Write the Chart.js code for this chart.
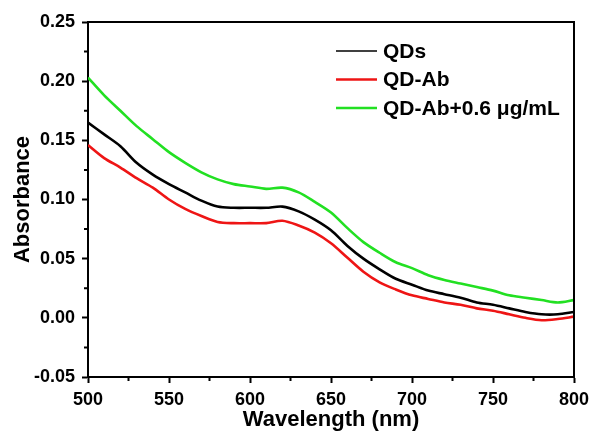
<!DOCTYPE html>
<html><head><meta charset="utf-8">
<script src="https://cdn.jsdelivr.net/npm/chart.js@4"></script>
<style>html,body{margin:0;padding:0;background:#fff}#wrap{width:592px;height:436px}</style>
</head><body><div id="wrap"><canvas id="c" width="592" height="436"></canvas></div>
<script>
const wavelengths = [500,510,520,530,540,550,560,570,580,590,600,610,620,630,640,650,660,670,680,690,700,710,720,730,740,750,760,770,780,790,800];
const qds =        [0.165,0.155,0.145,0.131,0.121,0.113,0.106,0.099,0.094,0.093,0.093,0.093,0.094,0.090,0.083,0.074,0.061,0.050,0.041,0.033,0.028,0.023,0.020,0.017,0.013,0.011,0.008,0.005,0.003,0.003,0.005];
const qdAb =       [0.146,0.135,0.127,0.118,0.110,0.100,0.092,0.086,0.081,0.080,0.080,0.080,0.082,0.078,0.072,0.063,0.051,0.039,0.030,0.024,0.019,0.016,0.013,0.011,0.008,0.006,0.003,0.000,-0.002,-0.001,0.001];
const qdAbAntigen =[0.203,0.188,0.175,0.162,0.151,0.140,0.131,0.123,0.117,0.113,0.111,0.109,0.110,0.106,0.098,0.089,0.076,0.064,0.055,0.047,0.042,0.036,0.032,0.029,0.026,0.023,0.019,0.017,0.015,0.013,0.015];
const seriesLabels = ['QDs','QD-Ab','QD-Ab+0.6 \u03bcg/mL'];
const seriesColors = ['#000000','#ee1515','#22e022'];
const xMajorTicks = [500,550,600,650,700,750,800];
const xMinorTicks = [525,575,625,675,725,775];
const yMajorTicks = [-0.05,0,0.05,0.10,0.15,0.20,0.25];
const yMinorTicks = [-0.025,0.025,0.075,0.125,0.175,0.225];
const xTitle = 'Wavelength (nm)';
const yTitle = 'Absorbance';

const FONT = '"Liberation Sans", Arial, sans-serif';
const toPts = arr => wavelengths.map((w,i)=>({x:w,y:arr[i]}));
const seriesData = [qds, qdAb, qdAbAntigen];

const extras = {
  id:'extras',
  afterDraw(chart){
    const {ctx, chartArea:a, scales:{x,y}} = chart;
    ctx.save();
    ctx.strokeStyle='#000'; ctx.lineWidth=2;
    ctx.beginPath();
    ctx.moveTo(a.left-1, a.top); ctx.lineTo(a.right, a.top); ctx.lineTo(a.right, a.bottom+1);
    xMinorTicks.forEach(v=>{const p=x.getPixelForValue(v); ctx.moveTo(p,a.bottom); ctx.lineTo(p,a.bottom+4);});
    yMinorTicks.forEach(v=>{const p=y.getPixelForValue(v); ctx.moveTo(a.left,p); ctx.lineTo(a.left-4,p);});
    ctx.stroke();
    // legend
    const lx0 = 336, lx1 = 377, tx = 383, rows=[51,79.5,108];
    ctx.font = 'bold 21px ' + FONT;
    ctx.textBaseline='middle'; ctx.textAlign='left';
    chart.data.datasets.forEach((ds,i)=>{
      ctx.beginPath();
      ctx.strokeStyle = ds.borderColor; ctx.lineWidth = i===0 ? 1.5 : 2.5;
      ctx.moveTo(lx0, rows[i]); ctx.lineTo(lx1, rows[i]); ctx.stroke();
      ctx.fillStyle='#000';
      ctx.fillText(ds.label, tx, rows[i]+1);
    });
    ctx.restore();
  }
};

new Chart(document.getElementById('c'), {
  type:'line',
  data:{
    datasets: seriesData.map((arr,i)=>({
      label: seriesLabels[i],
      data: toPts(arr),
      borderColor: seriesColors[i],
      backgroundColor: seriesColors[i],
      borderWidth: 2.6,
      pointRadius: 0,
      tension: 0.3,
      fill: false
    }))
  },
  options:{
    responsive:false,
    animation:false,
    devicePixelRatio:1,
    layout:{padding:{left:0, top:22, right:18, bottom:0}},
    plugins:{legend:{display:false}, tooltip:{enabled:false}},
    scales:{
      x:{
        type:'linear', min:500, max:800,
        afterBuildTicks: s => { s.ticks = xMajorTicks.map(v=>({value:v})); },
        afterFit: s => { s.height = 59; s.paddingLeft = 0; s.paddingRight = 0; },
        ticks:{ font:{family:FONT, size:18, weight:'bold'}, color:'#000', padding:6, maxRotation:0,
                callback: v => String(v) },
        grid:{ drawOnChartArea:false, drawTicks:true, tickLength:6, tickWidth:2, tickColor:'#000', color:'#000' },
        border:{ display:true, color:'#000', width:2 },
        title:{ display:true, text:xTitle, color:'#000', font:{family:FONT, size:22, weight:'bold'}, padding:{top:0,bottom:3} }
      },
      y:{
        type:'linear', min:-0.05, max:0.25,
        afterBuildTicks: s => { s.ticks = yMajorTicks.map(v=>({value:v})); },
        afterFit: s => { s.width = 88; s.paddingTop = 0; s.paddingBottom = 0; },
        ticks:{ font:{family:FONT, size:18, weight:'bold'}, color:'#000', padding:7,
                callback: v => Number(v).toFixed(2) },
        grid:{ drawOnChartArea:false, drawTicks:true, tickLength:6, tickWidth:2, tickColor:'#000', color:'#000' },
        border:{ display:true, color:'#000', width:2 },
        title:{ display:true, text:yTitle, color:'#000', font:{family:FONT, size:22, weight:'bold'}, padding:{top:10,bottom:0} }
      }
    }
  },
  plugins:[extras]
});
</script></body></html>
